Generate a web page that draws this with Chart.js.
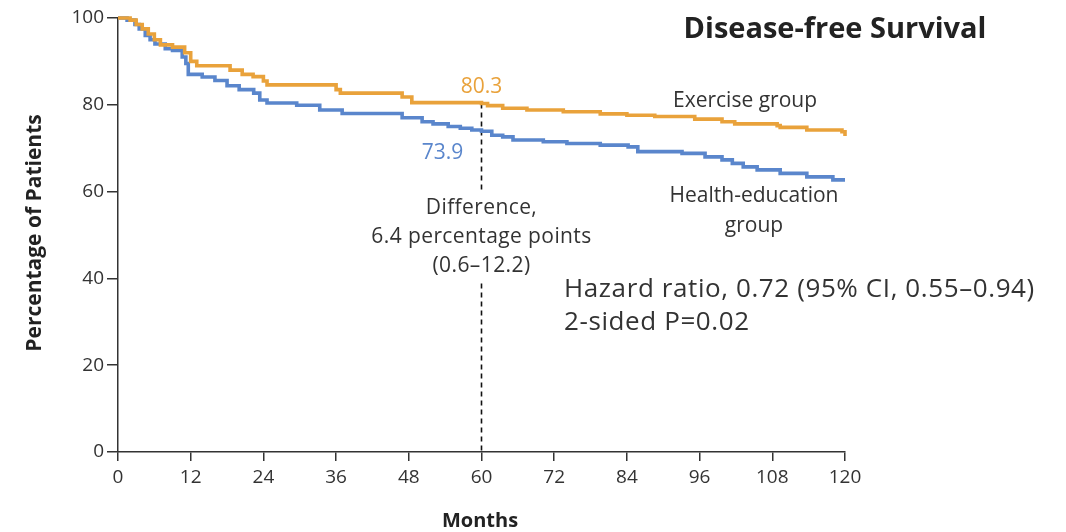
<!DOCTYPE html>
<html>
<head>
<meta charset="utf-8">
<script src="https://cdn.jsdelivr.net/npm/chart.js@4"></script>
<style>
  body { margin: 0; background: #fff; }
  #wrap { width: 1066px; height: 532px; }
</style>
</head>
<body>
<div id="wrap"><canvas id="dfs_chart" width="1066" height="532"></canvas></div>
<script>
// ==== data ====
const exercise_months   = [0, 2, 3, 4, 5, 6, 7, 9, 11, 12, 13, 18.5, 20.5, 22.3, 24, 24.6, 36, 36.7, 46.9, 48.5, 60, 61, 63.5, 67.5, 73.5, 79.6, 84, 88.6, 95.2, 99.7, 101.8, 108.8, 109.3, 113.7, 119.5, 120];
const exercise_survival = [100, 99.5, 98.5, 97.5, 96.3, 95, 93.8, 93.3, 92, 90, 89, 88, 87, 86.5, 85.5, 84.6, 83.5, 82.7, 81.8, 80.5, 80.3, 79.8, 79.2, 78.8, 78.4, 77.9, 77.6, 77.3, 76.7, 76.1, 75.6, 75.2, 74.8, 74.2, 73.8, 72.8];

const health_months   = [0, 1.5, 2.8, 3.5, 4.5, 5.3, 6.1, 7.8, 9, 10.6, 11.2, 11.6, 13.9, 16, 18, 20, 22.4, 23.4, 24.6, 29.5, 33.3, 37, 46.9, 50.2, 52, 54.5, 56.5, 58.4, 60, 61.7, 63.5, 65.2, 70.2, 74.1, 79.6, 84.2, 85.8, 93.1, 96.9, 99.7, 101.4, 103.2, 105.5, 109.3, 113.7, 118, 120];
const health_survival = [100, 99.5, 98.5, 97.5, 96, 95, 94, 92.9, 92.5, 91, 89.5, 87, 86.4, 85.6, 84.4, 83.5, 82.7, 81.1, 80.4, 79.9, 78.8, 78, 77, 76.1, 75.6, 75, 74.6, 74.2, 73.9, 73, 72.6, 71.9, 71.5, 71.1, 70.7, 70.3, 69.2, 68.8, 68, 67.3, 66.5, 65.7, 65, 64.2, 63.4, 62.7, 62.7];

const x_ticks = [0, 12, 24, 36, 48, 60, 72, 84, 96, 108, 120];
const y_ticks = [0, 20, 40, 60, 80, 100];

// 60개월 시점 차이 표시용
const mark_month = 60;
const mark_exercise = 80.3;
const mark_health = 73.9;

const ORANGE = '#E9A23B';
const BLUE = '#5A86CC';
const INK = '#333333';
const TICK_FONT = '"Open Sans", "Noto Sans", sans-serif';
const TEXT_FONT = '"Open Sans", "Noto Sans", sans-serif';

function toPoints(xs, ys) {
	return xs.map((x, i) => ({ x: x, y: ys[i] }));
}

// 텍스트 주석을 그리는 플러그인
const annotationPlugin = {
	id: 'annotations',
	afterDatasetsDraw(chart) {
		const ctx = chart.ctx;
		const xs = chart.scales.x;
		const ys = chart.scales.y;
		const px = v => xs.getPixelForValue(v);

		ctx.save();
		ctx.textBaseline = 'middle';

		// 차이 설명 뒤 흰 배경 (점선 가림)
		ctx.fillStyle = '#fff';
		ctx.fillRect(px(mark_month) - 6, 190, 12, 93);

		ctx.textAlign = 'center';
		ctx.font = '21px ' + TEXT_FONT;
		ctx.fillStyle = ORANGE;
		ctx.fillText(mark_exercise.toFixed(1), px(mark_month), 87);
		ctx.fillStyle = BLUE;
		ctx.fillText(mark_health.toFixed(1), px(mark_month) - 39, 153);

		ctx.fillStyle = INK;
		ctx.fillText('Exercise group', 745, 101);
		ctx.fillText('Health-education', 754, 196);
		ctx.fillText('group', 754, 226);

		ctx.letterSpacing = '0.4px';
		ctx.fillText('Difference,', px(mark_month), 208);
		ctx.fillText('6.4 percentage points', px(mark_month), 237);
		ctx.fillText('(0.6\u201312.2)', px(mark_month), 266);

		ctx.textAlign = 'left';
		ctx.font = '26px ' + TEXT_FONT;
		ctx.letterSpacing = '0.6px';
		ctx.fillText('Hazard ratio, 0.72 (95% CI, 0.55\u20130.94)', 564, 290);
		ctx.fillText('2-sided P=0.02', 564, 323);
		ctx.letterSpacing = '0px';

		ctx.textAlign = 'center';
		ctx.font = 'bold 29px ' + TEXT_FONT;
		ctx.fillStyle = '#222';
		ctx.fillText('Disease-free Survival', 835, 30);

		ctx.font = 'bold 20px ' + TEXT_FONT;
		ctx.fillText('Months', 480, 521);

		ctx.translate(35, 233);
		ctx.rotate(-Math.PI / 2);
		ctx.font = 'bold 21px ' + TEXT_FONT;
		ctx.fillText('Percentage of Patients', 0, 0);
		ctx.restore();
	}
};

const ctx = document.getElementById('dfs_chart').getContext('2d');
const dfs_chart = new Chart(ctx, {
	type: 'line',
	data: {
		datasets: [
			{
				label: 'Difference',
				data: [{ x: mark_month, y: mark_exercise }, { x: mark_month, y: 0 }],
				borderColor: '#111',
				borderWidth: 1.6,
				borderDash: [5, 4],
				pointRadius: 0,
				order: 3
			},
			{
				label: 'Health-education group',
				data: toPoints(health_months, health_survival),
				borderColor: BLUE,
				borderWidth: 3.6,
				stepped: true,
				pointRadius: 0,
				clip: false,
				order: 2
			},
			{
				label: 'Exercise group',
				data: toPoints(exercise_months, exercise_survival),
				borderColor: ORANGE,
				borderWidth: 3.6,
				stepped: true,
				pointRadius: 0,
				clip: false,
				order: 1
			}
		]
	},
	options: {
		responsive: false,
		animation: false,
		layout: { padding: { left: 0, right: 221, top: 18, bottom: 0 } },
		plugins: {
			legend: { display: false },
			tooltip: { enabled: false }
		},
		scales: {
			x: {
				type: 'linear',
				min: 0,
				max: 120,
				afterBuildTicks: axis => { axis.ticks = x_ticks.map(v => ({ value: v })); },
				afterFit: axis => { axis.height = 80; },
				grid: { display: true, drawOnChartArea: false, drawTicks: true, tickLength: 9, color: INK, lineWidth: 1.5 },
				border: { display: true, color: INK, width: 1.5 },
				ticks: { color: INK, font: { family: TICK_FONT, size: 19 }, padding: 5 }
			},
			y: {
				min: 0,
				max: 100,
				afterBuildTicks: axis => { axis.ticks = y_ticks.map(v => ({ value: v })); },
				afterFit: axis => { axis.width = 118; },
				grid: { display: true, drawOnChartArea: false, drawTicks: true, tickLength: 11, color: INK, lineWidth: 1.5 },
				border: { display: true, color: INK, width: 1.5 },
				ticks: { color: INK, font: { family: TICK_FONT, size: 19 }, padding: 3 }
			}
		}
	},
	plugins: [annotationPlugin]
});
</script>
</body>
</html>
